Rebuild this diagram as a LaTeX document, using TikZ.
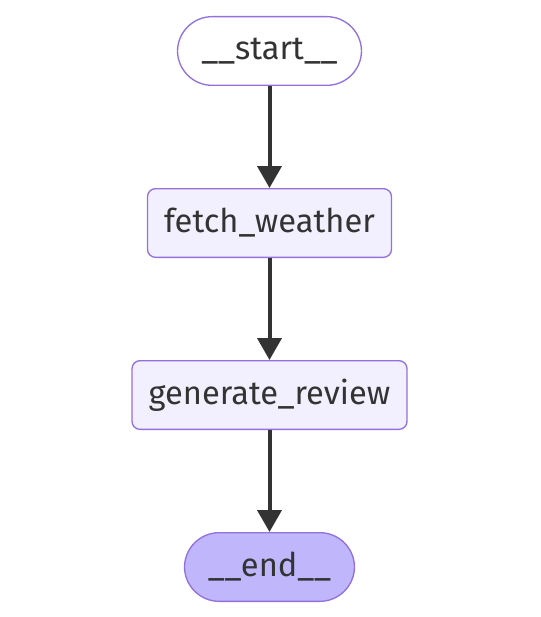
\documentclass[tikz,border=0pt]{standalone}
\usepackage{fontspec}
\setmainfont{Fira Sans}
\usetikzlibrary{arrows.meta,positioning}
\definecolor{nodeborder}{RGB}{147, 112, 219}
\definecolor{nodefill}{RGB}{242, 240, 255}
\definecolor{endfill}{RGB}{191, 182, 252}
\definecolor{textcolor}{RGB}{51, 51, 51}
\definecolor{edgecolor}{RGB}{51, 51, 51}
\tikzset{
stepnode/.style={
  draw=nodeborder,
  line width=1pt,
  fill=nodefill,
  rounded corners=6pt,
  minimum height=51.5pt,
  inner xsep=4pt,
  font=\fontsize{24.5}{28}\selectfont,
  text=textcolor
},
terminal/.style={
  stepnode,
  rounded corners=26pt
},
startnode/.style={
  terminal,
  fill=white
},
endnode/.style={
  terminal,
  fill=endfill
},
flow/.style={
  -{Triangle[length=16.5pt,width=18pt]},
  line width=3pt,
  draw=edgecolor
}
}
\begin{document}
\begin{tikzpicture}[x=0.75pt, y=-0.75pt, node distance=76.5pt]
\useasboundingbox (0,0) rectangle (540,617);

% nodes
\node[startnode, minimum width=138pt] (start) at (269.5,51) {\_\_start\_\_};
\node[stepnode, minimum width=183pt, below=of start] (fetch) {fetch\_weather};
\node[stepnode, minimum width=206.25pt, below=of fetch] (review) {generate\_review};
\node[endnode, minimum width=127.5pt, below=of review] (end) {\_\_end\_\_};

% edges
\draw[flow] (start) -- (fetch);
\draw[flow] (fetch) -- (review);
\draw[flow] (review) -- (end);

\end{tikzpicture}
\end{document}
